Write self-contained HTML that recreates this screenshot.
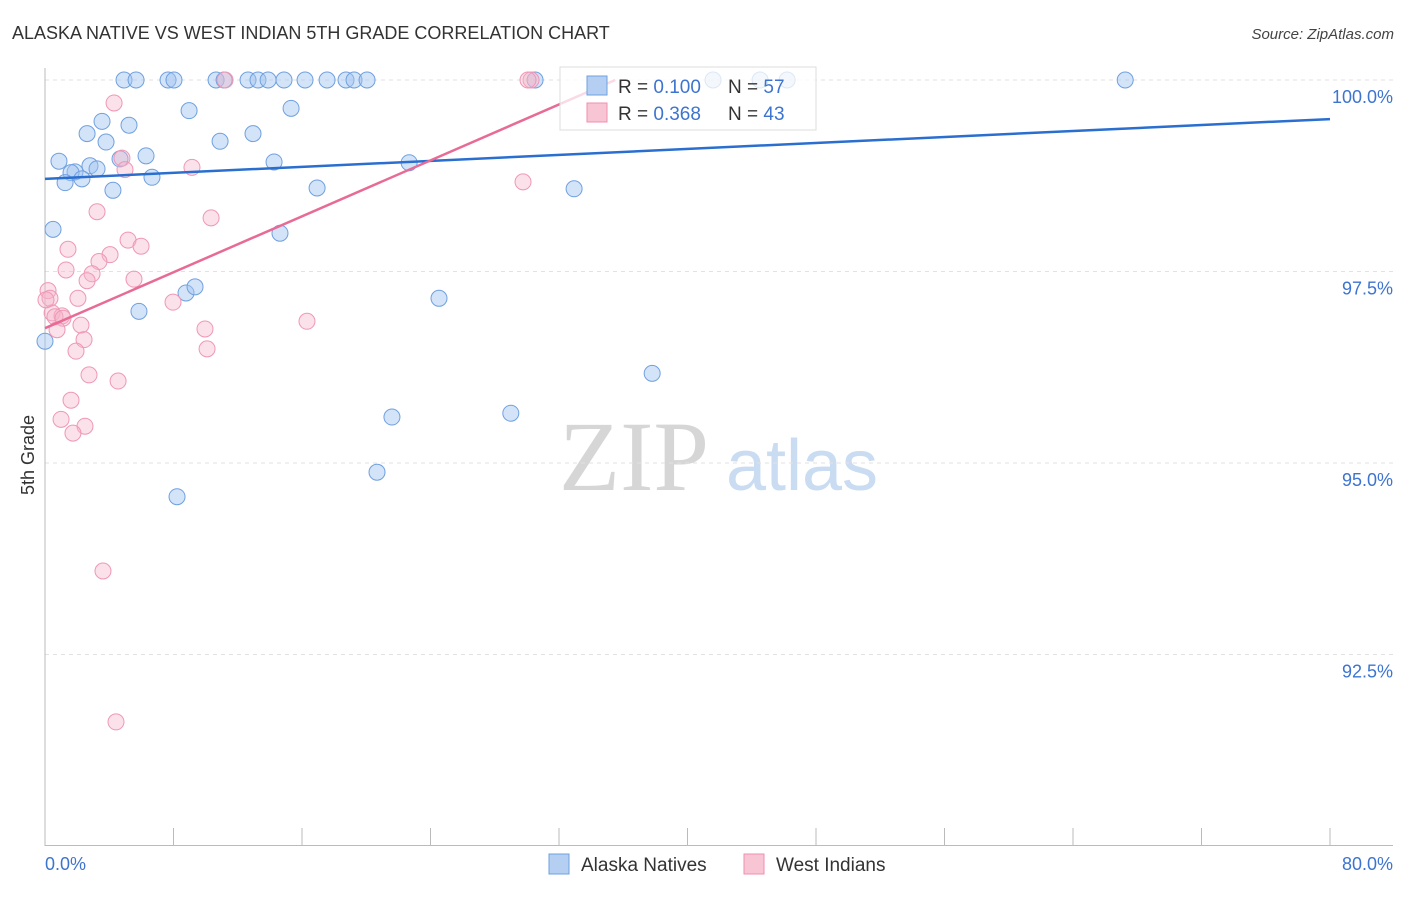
<!DOCTYPE html>
<html><head><meta charset="utf-8"><style>
body{margin:0;background:#fff;font-family:"Liberation Sans",sans-serif}
</style></head><body>
<svg id="chart" width="1406" height="892" viewBox="0 0 1406 892" font-family="Liberation Sans, sans-serif">
<text x="12" y="39" font-size="18" fill="#333">ALASKA NATIVE VS WEST INDIAN 5TH GRADE CORRELATION CHART</text>
<text x="1394" y="39" font-size="15" fill="#444" font-style="italic" text-anchor="end">Source: ZipAtlas.com</text>
<g>
<text x="634" y="490" font-size="100" fill="#d6d6d6" style="font-family:'Liberation Serif',serif" text-anchor="middle">ZIP</text>
<text x="802" y="490" font-size="72" fill="#c9dcf2" text-anchor="middle">atlas</text>
</g>
<g id="grid"></g><g id="axes"></g><g id="pts"></g><g id="lines"></g>
<text transform="translate(34,455) rotate(-90)" font-size="18" fill="#333" text-anchor="middle">5th Grade</text>
<text x="45" y="870" font-size="18" fill="#3d74d0">0.0%</text>
<text x="1393" y="870" font-size="18" fill="#3d74d0" text-anchor="end">80.0%</text>
<g>
<rect x="560" y="67" width="256" height="63" fill="rgba(255,255,255,0.75)" stroke="#ddd"/>
<rect x="587" y="76" width="20" height="19" fill="#b5cff2" stroke="#6fa0e0"/>
<rect x="587" y="103" width="20" height="19" fill="#f8c5d5" stroke="#ef8fb0"/>
<text x="618" y="93" font-size="19" fill="#333">R = <tspan fill="#3d74d0">0.100</tspan></text>
<text x="728" y="93" font-size="19" fill="#333">N = <tspan fill="#3d74d0">57</tspan></text>
<text x="618" y="120" font-size="19" fill="#333">R = <tspan fill="#3d74d0">0.368</tspan></text>
<text x="728" y="120" font-size="19" fill="#333">N = <tspan fill="#3d74d0">43</tspan></text>
</g>
<g>
<rect x="549" y="854" width="20" height="20" fill="#b5cff2" stroke="#6fa0e0"/>
<text x="581" y="871" font-size="19" fill="#333">Alaska Natives</text>
<rect x="744" y="854" width="20" height="20" fill="#f8c5d5" stroke="#ef8fb0"/>
<text x="776" y="871" font-size="19" fill="#333">West Indians</text>
</g>
</svg>
<script>
const yTicks=[100,97.5,95,92.5];
const yTickLabels=["100.0%","97.5%","95.0%","92.5%"];
const xTicks=[0,8,16,24,32,40,48,56,64,72,80];
const blueX=[4.92,5.67,7.66,8.03,10.65,11.15,12.64,13.26,13.89,14.88,16.19,17.56,18.74,19.24,20.05,30.51,41.59,44.52,46.2,67.25,8.97,15.32,3.55,5.23,2.62,12.95,10.9,3.8,0.87,6.29,4.67,14.26,22.67,2.8,3.24,1.87,1.62,2.3,1.25,6.66,4.23,16.94,32.94,0.5,14.63,8.78,9.34,24.53,5.85,0,37.8,21.6,29.0,20.67,8.22];
const blueY=[100,100,100,100,100,100,100,100,100,100,100,100,100,100,100,100,100,100,100,100,99.60,99.63,99.46,99.41,99.30,99.30,99.20,99.19,98.94,99.01,98.97,98.93,98.92,98.88,98.84,98.80,98.79,98.71,98.66,98.73,98.56,98.59,98.58,98.05,98.0,97.22,97.30,97.15,96.98,96.59,96.17,95.6,95.65,94.88,94.56];
const pinkX=[4.3,30.26,30.07,11.21,4.79,4.98,9.15,3.24,10.34,5.17,5.98,1.43,4.05,3.36,1.31,2.93,5.54,2.62,0.19,0.31,2.05,7.97,0.44,1.06,0.62,1.12,2.24,9.96,16.31,0.75,2.43,1.93,10.09,2.74,4.55,1.62,2.49,1.0,1.74,3.61,4.42,29.76,0.06];
const pinkY=[99.70,100,100,100,98.98,98.83,98.86,98.28,98.20,97.91,97.83,97.79,97.72,97.63,97.52,97.47,97.40,97.38,97.25,97.15,97.15,97.10,96.96,96.92,96.91,96.89,96.80,96.75,96.85,96.74,96.61,96.46,96.49,96.15,96.07,95.82,95.48,95.57,95.39,93.59,91.62,98.67,97.13];
const blueTrend=[[0,98.71],[80,99.49]];
const pinkTrend=[[0,96.76],[35.5,100]];
const NS="http://www.w3.org/2000/svg";
const sx=v=>45+(v/80)*1285;
const sy=v=>80+(100-v)*76.6;
function mk(tag,attrs,parent){const e=document.createElementNS(NS,tag);for(const k in attrs)e.setAttribute(k,attrs[k]);document.getElementById(parent).appendChild(e);return e;}
yTicks.forEach((t,i)=>{
 const g=mk('line',{x1:45,x2:1393,y1:sy(t),y2:sy(t),stroke:'#e2e2e2','stroke-dasharray':'4,4'},'grid');
 
 
 const l=mk('text',{x:1393,y:sy(t)+23,'font-size':18,fill:'#3d74d0','text-anchor':'end'},'grid');
 l.textContent=yTickLabels[i];
 
 
});
const ya=mk('line',{x1:45,x2:45,y1:68,y2:846,stroke:'#bbb'},'axes');


const xa=mk('line',{x1:45,x2:1393,y1:845.5,y2:845.5,stroke:'#bbb'},'axes');


xTicks.forEach(t=>{
 const k=mk('line',{x1:sx(t),x2:sx(t),y1:828,y2:846,stroke:'#bbb'},'axes');
 
 
});
blueX.forEach((x,i)=>{
 const c=mk('circle',{cx:sx(x),cy:sy(blueY[i]),r:8,fill:'rgba(160,195,240,0.45)',stroke:'#6fa0e0','stroke-width':1},'pts');
 
 
});
pinkX.forEach((x,i)=>{
 const c=mk('circle',{cx:sx(x),cy:sy(pinkY[i]),r:8,fill:'rgba(245,180,200,0.4)',stroke:'#ef97b6','stroke-width':1},'pts');
 
 
});
const bl=mk('line',{x1:sx(blueTrend[0][0]),y1:sy(blueTrend[0][1]),x2:sx(blueTrend[1][0]),y2:sy(blueTrend[1][1]),stroke:'#2a6fd0','stroke-width':2.5},'lines');


const pl=mk('line',{x1:sx(pinkTrend[0][0]),y1:sy(pinkTrend[0][1]),x2:sx(pinkTrend[1][0]),y2:sy(pinkTrend[1][1]),stroke:'#e86b96','stroke-width':2.5},'lines');


</script>
</body></html>
